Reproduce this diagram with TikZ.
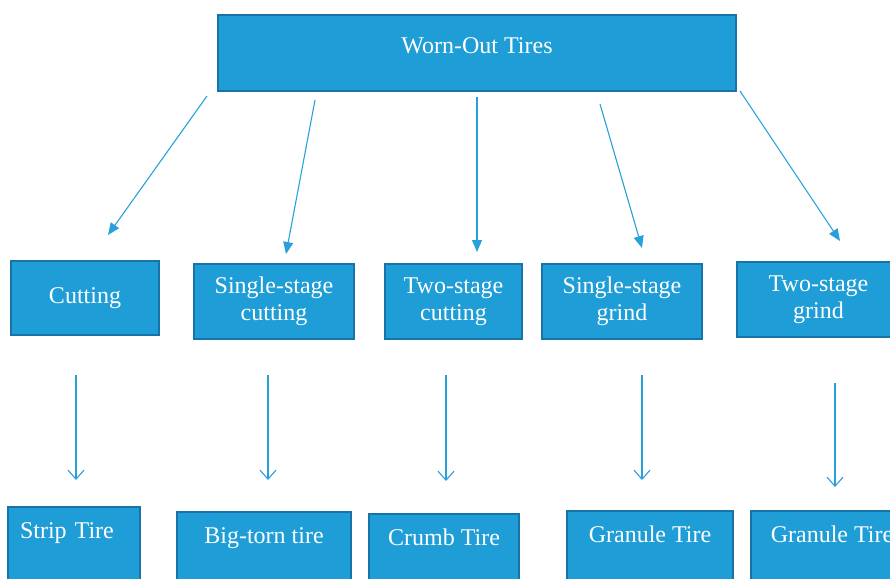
\documentclass[tikz,border=0pt]{standalone}
\usepackage{fontspec}
\setmainfont{Liberation Serif}
\usetikzlibrary{arrows.meta}
\definecolor{boxfill}{RGB}{30,157,215}
\definecolor{boxedge}{RGB}{24,116,168}
\definecolor{arrowblue}{RGB}{40,160,218}

\begin{document}
\begin{tikzpicture}[x=0.5pt, y=-0.5pt,
    tirebox/.style={draw=boxedge, fill=boxfill, line width=0.9pt, text=white, align=center, font=\fontsize{12}{13.5}\selectfont},
    midbox/.style={tirebox, minimum height=37.5pt},
    lowbox/.style={tirebox, anchor=north, inner ysep=0pt, text height=16pt, text depth=60pt},
    fatarrow/.style={arrowblue, line width=0.55pt, -{Triangle[length=6pt, width=5pt]}},
    thinarrow/.style={arrowblue, line width=0.55pt, -{Straight Barb[length=4.5pt, width=8pt]}}]
    \useasboundingbox (0,0) rectangle (890,579);

    \node[tirebox, minimum width=259pt, inner ysep=0pt, text height=19pt, text depth=19pt] (tires) at (477,53) {Worn-Out Tires};

    \node[midbox, minimum width=74pt, minimum height=37pt] (cut) at (85,298) {Cutting};
    \node[midbox, minimum width=80pt] (sscut) at (274,301.5) {Single-stage\\cutting};
    \node[midbox, minimum width=68.5pt] (tscut) at (453.5,301.5) {Two-stage\\cutting};
    \node[midbox, minimum width=80pt] (ssgrind) at (622,301.5) {Single-stage\\grind};
    \node[midbox, minimum width=81.5pt] (tsgrind) at (818.5,299.5) {Two-stage\\grind};

    \node[lowbox, align=left, text width=54pt, inner xsep=6pt] (strip) at (74,506) {Strip Tire};
    \node[lowbox, minimum width=87pt] (bigtorn) at (264,511) {Big-torn tire};
    \node[lowbox, minimum width=75pt] (crumb) at (444,513) {Crumb Tire};
    \node[lowbox, minimum width=83pt] (granule) at (650,510) {Granule Tire};
    \node[lowbox, minimum width=81pt] (granuletoo) at (832,510) {Granule Tire};

    \coordinate (from1) at (207,96);  \coordinate (to1) at (108,235);
    \coordinate (from2) at (315,100); \coordinate (to2) at (286,254);
    \coordinate (from3) at (477,97);  \coordinate (to3) at (477,252);
    \coordinate (from4) at (600,104); \coordinate (to4) at (642,248);
    \coordinate (from5) at (740,91);  \coordinate (to5) at (840,241);
    \draw[fatarrow] (from1) -- (to1);
    \draw[fatarrow] (from2) -- (to2);
    \draw[fatarrow] (from3) -- (to3);
    \draw[fatarrow] (from4) -- (to4);
    \draw[fatarrow] (from5) -- (to5);

    \coordinate (down1) at (76,375);  \coordinate (end1) at (76,480);
    \coordinate (down2) at (268,375); \coordinate (end2) at (268,480);
    \coordinate (down3) at (446,375); \coordinate (end3) at (446,481);
    \coordinate (down4) at (642,375); \coordinate (end4) at (642,480);
    \coordinate (down5) at (835,383); \coordinate (end5) at (835,487);
    \draw[thinarrow] (down1) -- (end1);
    \draw[thinarrow] (down2) -- (end2);
    \draw[thinarrow] (down3) -- (end3);
    \draw[thinarrow] (down4) -- (end4);
    \draw[thinarrow] (down5) -- (end5);
\end{tikzpicture}
\end{document}
